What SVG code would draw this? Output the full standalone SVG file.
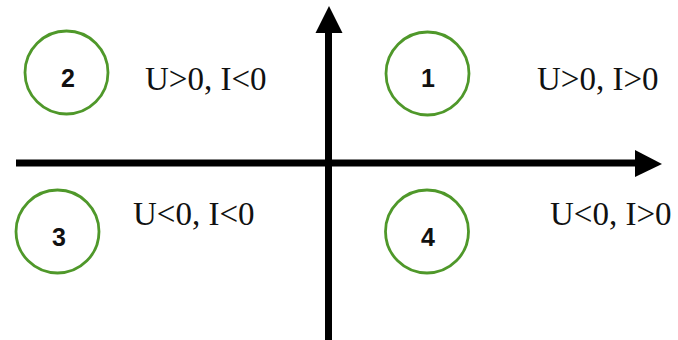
<svg xmlns="http://www.w3.org/2000/svg" width="678" height="340" viewBox="0 0 678 340">
<defs>
<style>
.q circle{fill:none;stroke:#4f982a;stroke-width:2.8}
.num{font-family:"Liberation Sans",Arial,sans-serif;font-weight:bold;font-size:25px;fill:#111;text-anchor:middle}
.lbl{font-family:"Liberation Serif","Times New Roman",serif;font-size:33px;fill:#111}
.ax{stroke:#000;stroke-width:7;fill:none}
.hd{fill:#000}
</style>
</defs>
<rect width="678" height="340" fill="#fff"/>
<g id="connectors">
<line class="ax" x1="16" y1="163" x2="637" y2="163"/>
<polygon class="hd" points="635,150 662,164 635,177"/>
<line class="ax" x1="328.5" y1="340" x2="328.5" y2="31"/>
<polygon class="hd" points="315.5,33 329,6 342.5,33"/>
</g>
<g id="q1" class="q">
<circle cx="427.5" cy="73.5" r="41.5"/>
<text class="num" x="428" y="87">1</text>
<text class="lbl" x="537" y="90">U&gt;0, I&gt;0</text>
</g>
<g id="q2" class="q">
<circle cx="66.5" cy="72.5" r="41.5"/>
<text class="num" x="68" y="87">2</text>
<text class="lbl" x="145" y="90">U&gt;0, I&lt;0</text>
</g>
<g id="q3" class="q">
<circle cx="57.5" cy="231.5" r="41.5"/>
<text class="num" x="59" y="246">3</text>
<text class="lbl" x="133" y="225">U&lt;0, I&lt;0</text>
</g>
<g id="q4" class="q">
<circle cx="427" cy="231.5" r="41.5"/>
<text class="num" x="428" y="246">4</text>
<text class="lbl" x="550" y="225">U&lt;0, I&gt;0</text>
</g>
</svg>
